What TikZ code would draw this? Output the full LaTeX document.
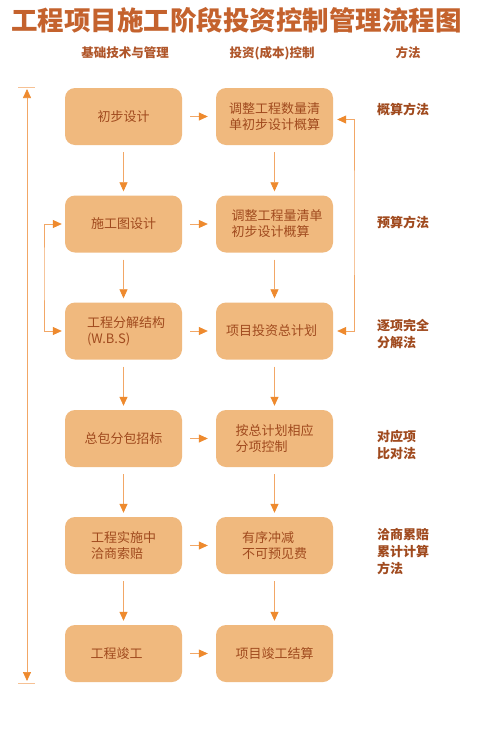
\documentclass[tikz,border=0pt]{standalone}
\usepackage{fontspec}
\setmainfont{Noto Sans CJK SC}
\usetikzlibrary{arrows.meta}
\definecolor{boxfill}{HTML}{F0B97E}
\definecolor{boxtext}{HTML}{A04A1E}
\definecolor{titlec}{HTML}{C4622D}
\definecolor{headc}{HTML}{B0562A}
\definecolor{methc}{HTML}{A04A1E}
\definecolor{arrc}{HTML}{EE8A2E}
\definecolor{linec}{HTML}{F2A766}
\begin{document}
\begin{tikzpicture}[x=1pt,y=-1pt,
  stepbox/.style={draw=none,fill=boxfill,rounded corners=10pt,minimum width=117pt,minimum height=57pt,
    text=boxtext,font=\fontsize{13}{16}\selectfont,align=left,inner sep=0pt},
  head/.style={text=headc,font=\fontsize{12.5}{15}\selectfont\bfseries,inner sep=0pt},
  meth/.style={text=methc,font=\fontsize{13}{17}\selectfont\bfseries,align=left,inner sep=0pt,anchor=west},
  flow/.style={draw=linec,line width=0.7pt,-{Triangle[length=9pt,width=8pt,color=arrc]}},
  flowboth/.style={draw=linec,line width=0.7pt,{Triangle[length=9pt,width=8pt,color=arrc]}-{Triangle[length=9pt,width=8pt,color=arrc]}},
  tick/.style={draw=linec!70,line width=0.7pt}]
\useasboundingbox (0,0) rectangle (500,737);
\fill[white] (0,0) rectangle (500,737);
% title
\node[anchor=west,inner sep=0pt,text=titlec,font=\fontsize{26.5}{30}\selectfont\bfseries] (title) at (11,20) {工程项目施工阶段投资控制管理流程图};
% headers
\node[head] (h1) at (125,53) {基础技术与管理};
\node[head] (h2) at (272,53) {投资(成本)控制};
\node[head] (h3) at (408,53) {方法};
% left boxes
\node[stepbox] (a1) at (123.5,116.5) {初步设计};
\node[stepbox] (a2) at (123.5,224) {施工图设计};
\node[stepbox] (a3) at (123.5,331) {\hspace*{5pt}工程分解结构\\\hspace*{5pt}(W.B.S)};
\node[stepbox] (a4) at (123.5,438.5) {总包分包招标};
\node[stepbox] (a5) at (123.5,545.5) {工程实施中\\洽商索赔\hspace*{13pt}};
\node[stepbox] (a6) at (123.5,653.5) {工程竣工\hspace*{14pt}};
% right boxes
\node[stepbox] (b1) at (274.5,116.5) {调整工程数量清\\单初步设计概算};
\node[stepbox] (b2) at (274.5,224) {\hspace*{5pt}调整工程量清单\\\hspace*{5pt}初步设计概算\hspace*{13pt}};
\node[stepbox] (b3) at (274.5,331) {项目投资总计划\hspace*{6pt}};
\node[stepbox] (b4) at (274.5,438.5) {按总计划相应\\分项控制\hspace*{26pt}};
\node[stepbox] (b5) at (274.5,545.5) {有序冲减\hspace*{13pt}\\不可预见费};
\node[stepbox] (b6) at (274.5,653.5) {项目竣工结算};
% methods
\node[meth] (m1) at (377,109) {概算方法};
\node[meth] (m2) at (377,222) {预算方法};
\node[meth] (m3) at (377,334) {逐项完全\\分解法};
\node[meth] (m4) at (377,445) {对应项\\比对法};
\node[meth] (m5) at (377,552) {洽商累赔\\累计计算\\方法};
% vertical arrows
\foreach \i/\j in {1/2,2/3,3/4,4/5,5/6}{
  \draw[flow,shorten <=7pt,shorten >=4pt] (a\i.south) -- (a\j.north);
  \draw[flow,shorten <=7pt,shorten >=4pt] (b\i.south) -- (b\j.north);
  }
% horizontal arrows
\foreach \i in {1,...,6}{
  \draw[flow,shorten <=8pt,shorten >=8pt] (a\i.east) -- (b\i.west);
  }
% long left line
\coordinate (lt) at (27,87);
\coordinate (lb) at (27,683);
\draw[flowboth,shorten <=2pt,shorten >=2pt] (lt) -- (lb);
\draw[tick] (18,87) -- (35,87);
\draw[tick] (18,683) -- (35,683);
% left feedback loop
\draw[flowboth,shorten <=3pt,shorten >=3pt] (a2.west) -| (44,270) |- (a3.west);
% right feedback loop
\draw[flowboth,shorten <=4pt,shorten >=4pt] ([yshift=-3pt]b1.east) -| (354,220) |- (b3.east);
\end{tikzpicture}
\end{document}
